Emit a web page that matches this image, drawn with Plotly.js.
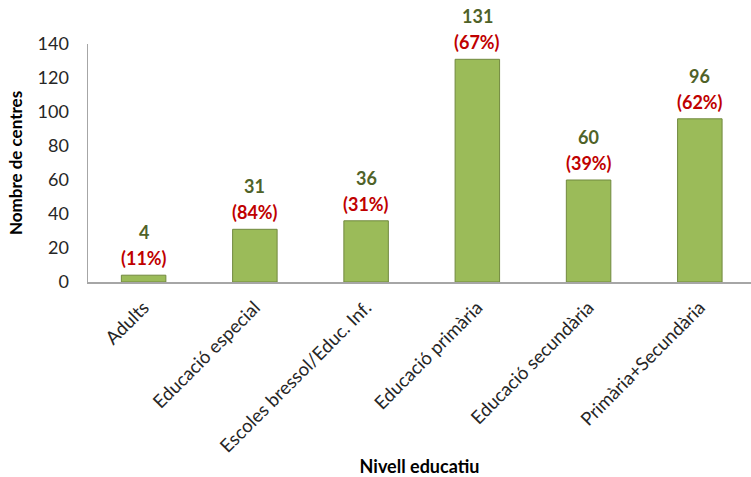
<!DOCTYPE html>
<html><head><meta charset="utf-8">
<script src="https://cdn.plot.ly/plotly-3.0.1.min.js"></script>
<style>html,body{margin:0;padding:0;background:#fff}</style>
</head><body><div id="chart" style="width:751px;height:477px"></div>
<script>
const categories = ["Adults","Educació especial","Escoles bressol/Educ. Inf.","Educació primària","Educació secundària","Primària+Secundària"];
const values = [4, 31, 36, 131, 60, 96];
const percents = ["(11%)","(84%)","(31%)","(67%)","(39%)","(62%)"];
const yTicks = [0,20,40,60,80,100,120,140];

const FONT = "Lato, 'Open Sans', sans-serif";
const annotations = [];
categories.forEach((c,i)=>{
  annotations.push({x:c, y:values[i], xref:'x', yref:'y', text:'<b>'+percents[i]+'</b>', showarrow:false,
    yanchor:'middle', yshift:17, font:{family:FONT,size:18,color:'#C00000'}});
  annotations.push({x:c, y:values[i], xref:'x', yref:'y', text:'<b>'+values[i]+'</b>', showarrow:false,
    yanchor:'middle', yshift:43, font:{family:FONT,size:18,color:'#4F6228'}});
});

const trace = {type:'bar', x:categories, y:values, width:0.4,
  marker:{color:'#9BBB59', line:{color:'#71893F', width:1}}, hoverinfo:'skip'};

const layout = {
  width:751, height:477, margin:{l:88,r:0,t:44,b:195}, showlegend:false,
  paper_bgcolor:'#fff', plot_bgcolor:'#fff', font:{family:FONT,color:'#262626'},
  xaxis:{type:'category', range:[-0.5,5.46], showline:true, linecolor:'#A6A6A6', linewidth:1.5,
    showgrid:false, zeroline:false, ticks:'', tickangle:-45, automargin:false,
    tickfont:{family:FONT,size:18.5,color:'#262626'}, ticklabelstandoff:6,
    title:{text:'<b>Nivell educatiu</b>', font:{family:FONT,size:18,color:'#000'}, standoff:20}},
  yaxis:{range:[0,140], tickvals:yTicks, showline:true, linecolor:'#A6A6A6', linewidth:1.5,
    showgrid:false, zeroline:false, ticks:'', automargin:false, ticklabelstandoff:14,
    tickfont:{family:FONT,size:18,color:'#262626'},
    title:{text:'<b>Nombre de centres</b>', font:{family:FONT,size:17,color:'#000'}, standoff:10}},
  annotations:annotations
};
Plotly.newPlot('chart',[trace],layout,{displayModeBar:false,staticPlot:true});
</script></body></html>
